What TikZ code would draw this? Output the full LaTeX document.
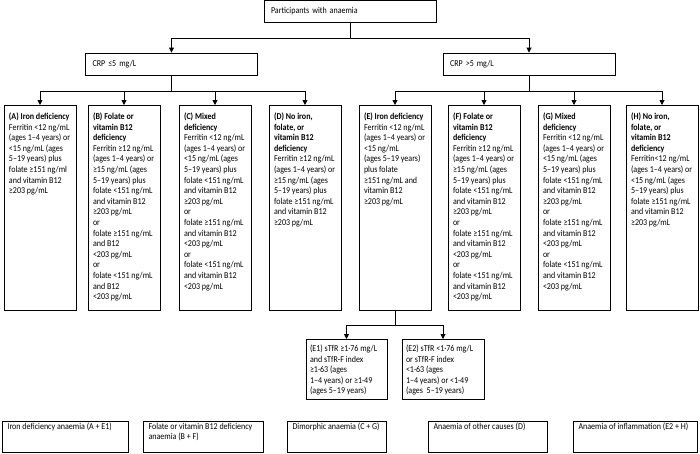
\documentclass[tikz,border=0pt]{standalone}
\usepackage{fontspec}
\setmainfont[FakeStretch=0.89]{Carlito}
\usetikzlibrary{arrows.meta}
\tikzset{
        % boxes of the flow chart
        chart box/.style={draw, line width=0.9pt, inner ysep=3pt},
        head box/.style={chart box, text width=158pt, minimum height=22pt, align=left, inner xsep=7pt},
        cat box/.style={chart box, anchor=north, inner xsep=5pt},
        sub box/.style={chart box, anchor=north, inner xsep=4pt},
        end box/.style={chart box, anchor=north, inner xsep=5.5pt, inner ysep=1.5pt},
        % connectors
        flow line/.style={line width=0.9pt},
        flow arrow/.style={line width=0.9pt, -{Triangle[width=5pt,length=5pt]}}
    }
% top aligned text of fixed height: height, width, first line height, text
\newcommand{\cellbox}[4]{\parbox[t][#1][t]{#2}{\raggedright\rule{0pt}{#3}#4}}

\begin{document}
\begin{tikzpicture}[x=1pt,y=-1pt,every node/.style={font=\fontsize{9}{10.6}\selectfont}]
\useasboundingbox (0,0) rectangle (700,453);

% Text Node
\node[head box] (part) at (350,11.5) {Participants with anaemia};
% Text Node
\node[head box] (crplo) at (171.5,64) {CRP ≤5 mg/L};
% Text Node
\node[head box] (crphi) at (529,64) {CRP >5 mg/L};

%Shape: Rectangle
\node[cat box] (a) at (40,105) {\cellbox{199pt}{62pt}{11pt}{{\bfseries (A) Iron deficiency}\\
Ferritin <12 ng/mL\\ (ages 1–4 years) or\\ <15 ng/mL (ages\\ 5–19 years) plus\\
folate ≥151 ng/ml\\ and vitamin B12\\ ≥203 pg/mL}};
%Shape: Rectangle
\node[cat box] (b) at (124,105) {\cellbox{199pt}{62pt}{11pt}{{\bfseries (B) Folate or\\ vitamin B12\\ deficiency}\\
Ferritin ≥12 ng/mL\\ (ages 1–4 years) or\\ ≥15 ng/mL (ages\\ 5–19 years) plus\\
folate <151 ng/mL\\ and vitamin B12\\ ≥203 pg/mL\\ or\\ folate ≥151 ng/mL\\ and B12\\ <203 pg/mL\\
or\\ folate <151 ng/mL\\ and B12\\ <203 pg/mL}};
%Shape: Rectangle
\node[cat box] (c) at (215,105) {\cellbox{199pt}{62pt}{11pt}{{\bfseries (C) Mixed\\ deficiency}\\
Ferritin <12 ng/mL\\ (ages 1–4 years) or\\ <15 ng/mL (ages\\ 5–19 years) plus\\
folate <151 ng/mL\\ and vitamin B12\\ ≥203 pg/mL\\ or\\ folate ≥151 ng/mL\\ and vitamin B12\\ <203 pg/mL\\
or\\ folate <151 ng/mL\\ and vitamin B12\\ <203 pg/mL}};
%Shape: Rectangle
\node[cat box] (d) at (305,105) {\cellbox{199pt}{62pt}{11pt}{{\bfseries (D) No iron,\\ folate, or\\ vitamin B12\\ deficiency}\\
Ferritin ≥12 ng/mL\\ (ages 1–4 years) or\\ ≥15 ng/mL (ages\\ 5–19 years) plus\\
folate ≥151 ng/mL\\ and vitamin B12\\ ≥203 pg/mL}};
%Shape: Rectangle
\node[cat box] (e) at (395,105) {\cellbox{199pt}{62pt}{11pt}{{\bfseries (E) Iron deficiency}\\
Ferritin <12 ng/mL\\ (ages 1–4 years) or\\ <15 ng/mL\\ (ages 5–19 years)\\ plus folate\\
≥151 ng/mL and\\ vitamin B12\\ ≥203 pg/mL}};
%Shape: Rectangle
\node[cat box] (f) at (484,105) {\cellbox{199pt}{62pt}{11pt}{{\bfseries (F) Folate or\\ vitamin B12\\ deficiency}\\
Ferritin ≥12 ng/mL\\ (ages 1–4 years) or\\ ≥15 ng/mL (ages\\ 5–19 years) plus\\
folate <151 ng/mL\\ and vitamin B12\\ ≥203 pg/mL\\ or\\ folate ≥151 ng/mL\\ and vitamin B12\\ <203 pg/mL\\
or\\ folate <151 ng/mL\\ and vitamin B12\\ <203 pg/mL}};
%Shape: Rectangle
\node[cat box] (g) at (574,105) {\cellbox{199pt}{62pt}{11pt}{{\bfseries (G) Mixed\\ deficiency}\\
Ferritin <12 ng/mL\\ (ages 1–4 years) or\\ <15 ng/mL (ages\\ 5–19 years) plus\\
folate <151 ng/mL\\ and vitamin B12\\ ≥203 pg/mL\\ or\\ folate ≥151 ng/mL\\ and vitamin B12\\ <203 pg/mL\\
or\\ folate <151 ng/mL\\ and vitamin B12\\ <203 pg/mL}};
%Shape: Rectangle
\node[cat box] (h) at (662,105) {\cellbox{199pt}{62pt}{11pt}{{\bfseries (H) No iron,\\ folate, or\\ vitamin B12\\ deficiency}\\
Ferritin<12 ng/mL\\ (ages 1–4 years) or\\ <15 ng/mL (ages\\ 5–19 years) plus\\
folate ≥151 ng/mL\\ and vitamin B12\\ ≥203 pg/mL}};

%Shape: Rectangle
\node[sub box] (e1) at (346.5,339) {\cellbox{54pt}{73pt}{9pt}{(E1) sTfR ≥1·76 mg/L\\ and sTfR-F index\\
≥1·63 (ages\\ 1–4 years) or ≥1·49\\ (ages 5–19 years)}};
%Shape: Rectangle
\node[sub box] (e2) at (443,339) {\cellbox{54pt}{74pt}{9pt}{(E2) sTfR <1·76 mg/L\\ or sTfR-F index\\
<1·63 (ages\\ 1–4 years) or <1·49\\ (ages\ \ 5–19 years)}};

% Text Node
\node[end box] (ida) at (65,421) {\cellbox{28pt}{115pt}{0pt}{Iron deficiency anaemia (A + E1)}};
% Text Node
\node[end box] (fba) at (203,421) {\cellbox{28pt}{109pt}{0pt}{Folate or vitamin B12 deficiency\\ anaemia (B + F)}};
% Text Node
\node[end box] (dim) at (336.5,421) {\cellbox{28pt}{88pt}{0pt}{Dimorphic anaemia (C + G)}};
% Text Node
\node[end box] (oth) at (487.5,421) {\cellbox{28pt}{108pt}{0pt}{Anaemia of other causes (D)}};
% Text Node
\node[end box] (inf) at (635,421) {\cellbox{28pt}{113pt}{0pt}{Anaemia of inflammation (E2 + H)}};

%Straight Lines
\coordinate (split) at (350,38);
\coordinate (row) at (0,91);
\coordinate (esplit) at (395,325);
\draw[flow line] (part.south) -- (split);
\draw[flow arrow] (split) -| (crplo.north);
\draw[flow arrow] (split) -| (crphi.north);

\draw[flow line] (crplo.south) -- (crplo.south |- row);
\foreach \n in {a,b,c,d}
    \draw[flow arrow] (crplo.south |- row) -| (\n.north);
\draw[flow line] (crphi.south) -- (crphi.south |- row);
\foreach \n in {e,f,g,h}
    \draw[flow arrow] (crphi.south |- row) -| (\n.north);

\draw[flow line] (e.south) -- (esplit);
\draw[flow arrow] (esplit) -| (e1.north);
\draw[flow arrow] (esplit) -| (e2.north);

\end{tikzpicture}
\end{document}
